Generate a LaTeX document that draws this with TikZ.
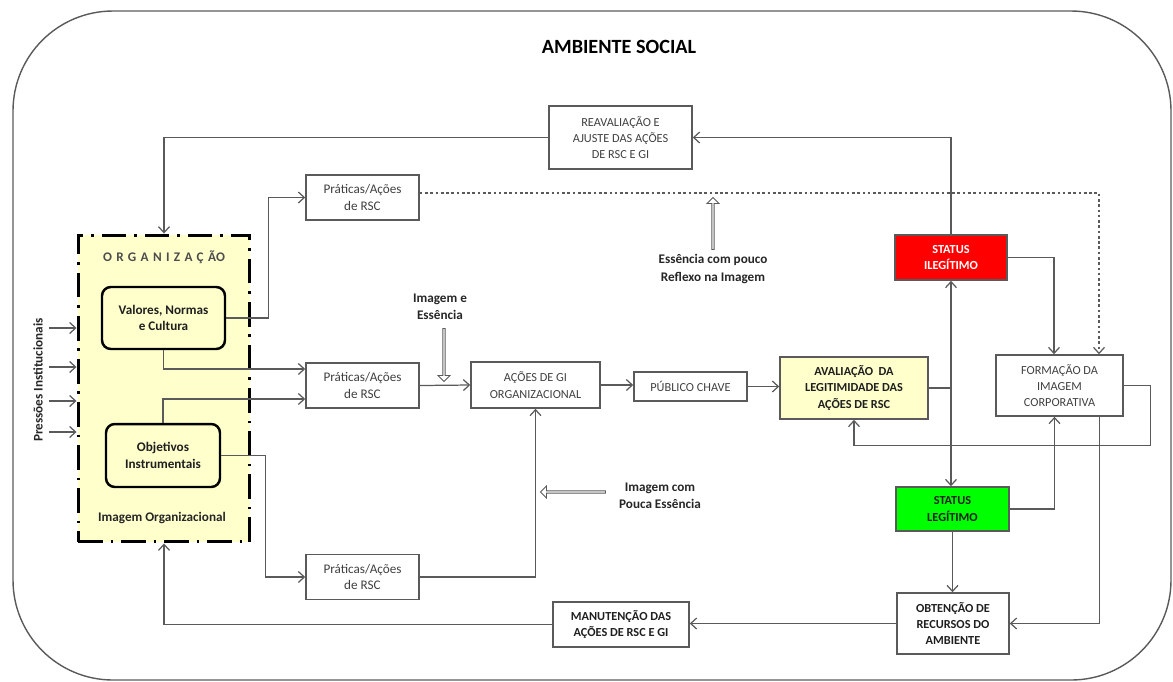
\documentclass[tikz,border=0pt]{standalone}
\usepackage{fontspec}
\setmainfont{Carlito}
\usepackage{tikz}
\usetikzlibrary{arrows.meta,shapes.arrows}

\definecolor{palido}{RGB}{255,255,204}
\definecolor{linha}{RGB}{90,90,90}
\definecolor{verde}{RGB}{0,255,0}
\definecolor{vermelho}{RGB}{255,0,0}

\begin{document}
\begin{tikzpicture}[x=0.02cm,y=-0.02cm,
  >={Straight Barb[length=1.2mm,width=2.2mm]},
  caixa/.style={draw=linha, line width=0.9pt, align=center, inner sep=0pt,
    text=black!75, font=\fontsize{7.5}{9.5}\selectfont},
  caixab/.style={caixa, text=black!88, font=\fontsize{7.5}{9.5}\selectfont\bfseries},
  maiusc/.style={font=\fontsize{7}{9.3}\selectfont},
  maiuscb/.style={font=\fontsize{7}{9.3}\selectfont\bfseries},
  fio/.style={draw=linha, line width=0.7pt},
  oco/.style={single arrow, draw=linha, fill=white, line width=0.5pt, inner sep=0pt,
    minimum width=0.24cm, single arrow head extend=0.04cm},
  rotulo/.style={align=center, text=black!85, font=\fontsize{7.5}{9.8}\selectfont\bfseries}]
  \useasboundingbox (0,0) rectangle (1173,681);
  \draw[linha, line width=0.8pt, rounded corners=2cm] (13,11) rectangle (1171,680);
  \node[font=\fontsize{11.5}{14}\selectfont\bfseries] (titulo) at (619,47) {AMBIENTE SOCIAL};

  \node[draw=black, fill=palido, line width=1.7pt, dash pattern=on 14pt off 4.5pt on 1.5pt off 4.5pt,
    minimum width=3.44cm, minimum height=6.14cm] (org) at (164,388.5) {};
  \node[text=black!70, font=\fontsize{7.5}{9}\selectfont\bfseries] (orgtit) at (164,257)
    {\addfontfeatures{LetterSpace=33}ORGANIZAÇÃ\addfontfeatures{LetterSpace=0}O};
  \node[caixab, draw=black, line width=1.4pt, rounded corners=5pt,
    minimum width=2.46cm, minimum height=1.24cm] (valores) at (163.5,318) {Valores, Normas\\e Cultura};
  \node[caixab, draw=black, line width=1.4pt, rounded corners=5pt,
    minimum width=2.28cm, minimum height=1.26cm] (objetivos) at (163,455.5) {Objetivos\\Instrumentais};
  \node[rotulo] (imgorg) at (162,518) {Imagem Organizacional};
  \node[rotulo, rotate=90] (pressoes) at (38,380) {Pressões Institucionais};

  \node[caixa, minimum width=2.26cm, minimum height=0.9cm] (prat1) at (362.5,197.5) {Práticas/Ações\\de RSC};
  \node[caixa, minimum width=2.26cm, minimum height=0.9cm] (prat2) at (362.5,385.5) {Práticas/Ações\\de RSC};
  \node[caixa, minimum width=2.26cm, minimum height=0.9cm] (prat3) at (362.5,577) {Práticas/Ações\\de RSC};
  \node[caixa, maiusc, minimum width=2.58cm, minimum height=0.92cm] (acoes) at (535.5,385) {AÇÕES DE GI\\ORGANIZACIONAL};
  \node[caixa, maiusc, minimum width=2.26cm, minimum height=0.58cm] (publico) at (690.5,386.5) {PÚBLICO CHAVE};
  \node[caixab, maiuscb, fill=palido, minimum width=2.96cm, minimum height=1.24cm] (aval) at (854,388)
    {AVALIAÇÃO~ DA\\LEGITIMIDADE DAS\\AÇÕES DE RSC};
  \node[caixab, maiuscb, fill=vermelho, text=white, minimum width=2.24cm, minimum height=0.9cm] (ileg) at (951,257.5)
    {STATUS\\ILEGÍTIMO};
  \node[caixa, maiusc, minimum width=2.54cm, minimum height=1.22cm] (form) at (1059.5,385.5)
    {FORMAÇÃO DA\\IMAGEM\\CORPORATIVA};
  \node[caixab, maiuscb, fill=verde, minimum width=2.26cm, minimum height=0.88cm] (leg) at (952.5,509)
    {STATUS\\LEGÍTIMO};
  \node[caixab, maiuscb, minimum width=2.24cm, minimum height=1.22cm] (obt) at (953,623.5)
    {OBTENÇÃO DE\\RECURSOS DO\\AMBIENTE};
  \node[caixab, maiuscb, minimum width=2.72cm, minimum height=0.9cm] (manut) at (621,624.5)
    {MANUTENÇÃO DAS\\AÇÕES DE RSC E GI};
  \node[caixa, maiusc, minimum width=2.86cm, minimum height=1.26cm] (reav) at (620.5,137.5)
    {REAVALIAÇÃO E\\AJUSTE DAS AÇÕES\\DE RSC E GI};

  \foreach \y in {328,367,401,432}
    \draw[fio,->] (pressoes.south |- 0,\y) -- (org.west |- 0,\y);

  \draw[fio,->] (ileg.north) |- (reav.east);
  \draw[fio,->] (reav.west) -| (org.north);
  \draw[fio,->] (valores.east) -- ++(42,0) |- (prat1.west);
  \draw[fio,->] (valores.south) |- ([yshift=0.33cm]prat2.west);
  \draw[fio,->] (objetivos.north) |- ([yshift=-0.27cm]prat2.west);
  \draw[fio,->] (objetivos.east) -- ++(44,0) |- (prat3.west);
  \draw[fio,->] (prat2.east) -- (acoes.west);
  \draw[fio,->] (prat3.east) -| (acoes.south);
  \draw[fio,->] (acoes.east) -- (acoes.east -| publico.west);
  \draw[fio,->] (publico.east) -- (publico.east -| aval.west);

  \coordinate (juncao) at (aval.east -| ileg.south);
  \draw[fio] (aval.east) -- (juncao);
  \draw[fio,->] (juncao) -- (ileg.south);
  \draw[fio,->] (juncao) -- (juncao |- leg.north);
  \draw[fio,->] (ileg.east) -| ([xshift=-0.11cm]form.north);
  \draw[fio, dash pattern=on 1.5pt off 1.5pt,->] ([yshift=0.09cm]prat1.east) -| ([xshift=0.79cm]form.north);
  \draw[fio,->] (form.east) -- ++(27,0) -- ++(0,60) -| (aval.south);
  \draw[fio,->] (leg.east) -| ([xshift=-0.1cm]form.south);
  \draw[fio,->] ([xshift=0.8cm]form.south) |- (obt.east);
  \draw[fio,->] (leg.south) -- (leg.south |- obt.north);
  \draw[fio,->] (obt.west) -- (obt.west -| manut.east);
  \draw[fio,->] (manut.west) -| (org.south);

  \node[oco, minimum height=1.06cm, rotate=270] (seta1) at (444,354.5) {};
  \node[rotulo] (rot1) at (440,307) {Imagem e\\Essência};
  \node[oco, minimum height=1.04cm, rotate=90] (seta2) at (713,224) {};
  \node[rotulo] (rot2) at (713,269) {Essência com pouco\\Reflexo na Imagem};
  \node[oco, minimum height=1.3cm, rotate=180] (seta3) at (573.5,492) {};
  \node[rotulo] (rot3) at (660,496) {Imagem com\\Pouca Essência};
\end{tikzpicture}
\end{document}
